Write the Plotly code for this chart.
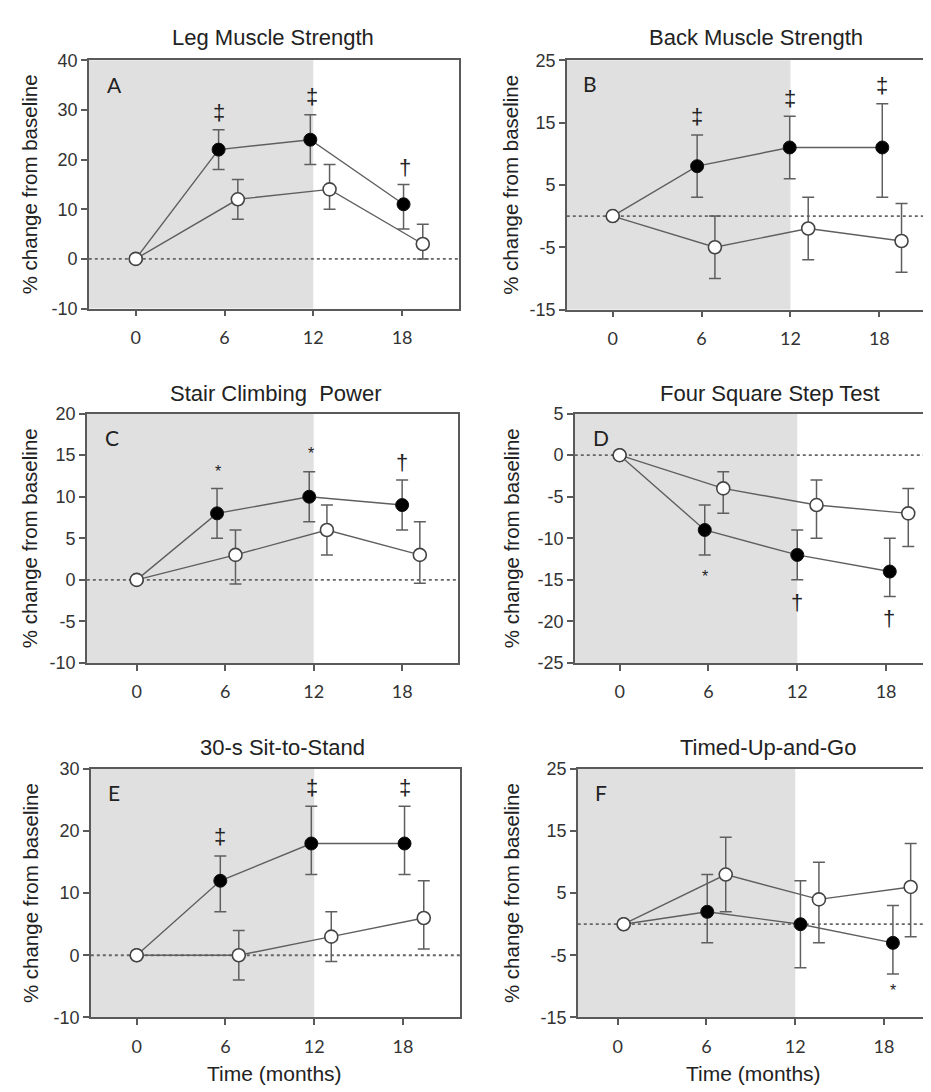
import plotly.graph_objects as go

# ---------------- data ----------------
titles = ["Leg Muscle Strength", "Back Muscle Strength", "Stair Climbing  Power",
          "Four Square Step Test", "30-s Sit-to-Stand", "Timed-Up-and-Go"]
letters = ["A", "B", "C", "D", "E", "F"]
month_ticks = [0, 6, 12, 18]

# exercise group (filled circles): x (months, as plotted), mean, upper, lower
A_ex_x = [0, 5.6, 11.8, 18.1]; A_ex_y = [0, 22, 24, 11]; A_ex_hi = [0, 26, 29, 15]; A_ex_lo = [0, 18, 19, 6]
A_ct_x = [0, 6.9, 13.1, 19.4]; A_ct_y = [0, 12, 14, 3]; A_ct_hi = [0, 16, 19, 7]; A_ct_lo = [0, 8, 10, 0]

B_ex_x = [0, 5.7, 11.95, 18.2]; B_ex_y = [0, 8, 11, 11]; B_ex_hi = [0, 13, 16, 18]; B_ex_lo = [0, 3, 6, 3]
B_ct_x = [0, 6.9, 13.2, 19.5]; B_ct_y = [0, -5, -2, -4]; B_ct_hi = [0, 0, 3, 2]; B_ct_lo = [0, -10, -7, -9]

C_ex_x = [0, 5.45, 11.7, 18.0]; C_ex_y = [0, 8, 10, 9]; C_ex_hi = [0, 11, 13, 12]; C_ex_lo = [0, 5, 7, 6]
C_ct_x = [0, 6.7, 12.9, 19.2]; C_ct_y = [0, 3, 6, 3]; C_ct_hi = [0, 6, 9, 7]; C_ct_lo = [0, -0.5, 3, -0.4]

D_ex_x = [0, 5.75, 12.0, 18.25]; D_ex_y = [0, -9, -12, -14]; D_ex_hi = [0, -6, -9, -10]; D_ex_lo = [0, -12, -15, -17]
D_ct_x = [0, 7.0, 13.3, 19.5]; D_ct_y = [0, -4, -6, -7]; D_ct_hi = [0, -2, -3, -4]; D_ct_lo = [0, -7, -10, -11]

E_ex_x = [0, 5.65, 11.8, 18.1]; E_ex_y = [0, 12, 18, 18]; E_ex_hi = [0, 16, 24, 24]; E_ex_lo = [0, 7, 13, 13]
E_ct_x = [0, 6.9, 13.15, 19.4]; E_ct_y = [0, 0, 3, 6]; E_ct_hi = [0, 4, 7, 12]; E_ct_lo = [0, -4, -1, 1]

F_ex_x = [0.4, 6.05, 12.35, 18.6]; F_ex_y = [0, 2, 0, -3]; F_ex_hi = [0, 8, 7, 3]; F_ex_lo = [0, -3, -7, -8]
F_ct_x = [0.4, 7.3, 13.6, 19.8]; F_ct_y = [0, 8, 4, 6]; F_ct_hi = [0, 14, 10, 13]; F_ct_lo = [0, 2, -3, -2]

# significance marks: x, y, symbol
A_sig_x = [5.6, 11.9, 18.2]; A_sig_y = [29.5, 32.7, 18.5]; A_sig_t = ["‡", "‡", "†"]
B_sig_x = [5.7, 11.95, 18.2]; B_sig_y = [16, 18.9, 21]; B_sig_t = ["‡", "‡", "‡"]
C_sig_x = [5.5, 11.8, 18.0]; C_sig_y = [13.0, 15.2, 14.1]; C_sig_t = ["*", "*", "†"]
D_sig_x = [5.75, 11.98, 18.2]; D_sig_y = [-14.6, -17.7, -19.6]; D_sig_t = ["*", "†", "†"]
E_sig_x = [5.64, 11.82, 18.1]; E_sig_y = [19.2, 27, 27]; E_sig_t = ["‡", "‡", "‡"]
F_sig_x = [18.6]; F_sig_y = [-10.6]; F_sig_t = ["*"]

A_yticks = [-10, 0, 10, 20, 30, 40]
B_yticks = [-15, -5, 5, 15, 25]
C_yticks = [-10, -5, 0, 5, 10, 15, 20]
D_yticks = [-25, -20, -15, -10, -5, 0, 5]
E_yticks = [-10, 0, 10, 20, 30]
F_yticks = [-15, -5, 5, 15, 25]

series = {
    "A": (A_ex_x, A_ex_y, A_ex_hi, A_ex_lo, A_ct_x, A_ct_y, A_ct_hi, A_ct_lo, A_sig_x, A_sig_y, A_sig_t, A_yticks),
    "B": (B_ex_x, B_ex_y, B_ex_hi, B_ex_lo, B_ct_x, B_ct_y, B_ct_hi, B_ct_lo, B_sig_x, B_sig_y, B_sig_t, B_yticks),
    "C": (C_ex_x, C_ex_y, C_ex_hi, C_ex_lo, C_ct_x, C_ct_y, C_ct_hi, C_ct_lo, C_sig_x, C_sig_y, C_sig_t, C_yticks),
    "D": (D_ex_x, D_ex_y, D_ex_hi, D_ex_lo, D_ct_x, D_ct_y, D_ct_hi, D_ct_lo, D_sig_x, D_sig_y, D_sig_t, D_yticks),
    "E": (E_ex_x, E_ex_y, E_ex_hi, E_ex_lo, E_ct_x, E_ct_y, E_ct_hi, E_ct_lo, E_sig_x, E_sig_y, E_sig_t, E_yticks),
    "F": (F_ex_x, F_ex_y, F_ex_hi, F_ex_lo, F_ct_x, F_ct_y, F_ct_hi, F_ct_lo, F_sig_x, F_sig_y, F_sig_t, F_yticks),
}

# ---------------- layout geometry (pixels) ----------------
W, H = 931, 1092
def px(x): return x / W
def py(y): return 1 - y / H

geom = {
    # plot box left, right, top, bottom (px); x range
    "A": dict(box=(81, 452, 43, 296), xr=(-3.17, 21.85), title=(266, 20), letter=(107, 68), ytx=21),
    "B": dict(box=(560, 929, 43, 297), xr=(-3.10, 21.76), title=(750, 20), letter=(583, 67), ytx=504),
    "C": dict(box=(79, 451, 403, 657), xr=(-3.38, 21.79), title=(269, 382), letter=(104, 427), ytx=21),
    "D": dict(box=(568, 931, 403, 657), xr=(-3.03, 21.44), title=(764, 382), letter=(594, 427), ytx=504),
    "E": dict(box=(83, 453, 765, 1018), xr=(-3.10, 21.85), title=(275, 743), letter=(106, 789), ytx=22),
    "F": dict(box=(571, 931, 765, 1018), xr=(-2.70, 21.58), title=(762, 743), letter=(594, 789), ytx=504),
}

TXT = "#222222"
AX = "#5a5a5a"
SHADE = "#e0e0e0"
LINE = "#5f5f5f"

fig = go.Figure()
layout = dict(width=W, height=H, margin=dict(l=0, r=0, t=0, b=0),
              plot_bgcolor="white", paper_bgcolor="white", showlegend=False,
              font=dict(family="Liberation Sans, Arial, sans-serif", color=TXT))
shapes, annotations = [], []

for i, key in enumerate(letters):
    n = "" if i == 0 else str(i + 1)
    xa, ya = "x" + n, "y" + n
    g = geom[key]
    l, r, t, b = g["box"]
    (exx, exy, exhi, exlo, ctx, cty, cthi, ctlo, sx, sy, st, yt) = series[key]

    layout["xaxis" + n] = dict(domain=[px(l), px(r)], range=list(g["xr"]), anchor=ya,
                               tickvals=month_ticks, ticktext=[str(m) for m in month_ticks],
                               ticks="outside", ticklen=6, tickwidth=1.5, tickcolor=AX,
                               showline=True, mirror=True, linecolor=AX, linewidth=1.5,
                               showgrid=False, zeroline=False, ticklabelstandoff=6,
                               tickfont=dict(family="Lato, Carlito, sans-serif", size=18, color="#333"))
    layout["yaxis" + n] = dict(domain=[py(b), py(t)], range=[yt[0], yt[-1]], anchor=xa,
                               tickvals=yt, ticktext=[str(v) for v in yt],
                               ticks="outside", ticklen=6, tickwidth=1.5, tickcolor=AX,
                               showline=True, mirror=True, linecolor=AX, linewidth=1.5,
                               showgrid=False, zeroline=False,
                               tickfont=dict(family="Liberation Sans, Arial", size=18, color="#333"))

    # shaded intervention period and dotted baseline
    shapes.append(dict(type="rect", xref=xa, yref=ya + " domain", x0=g["xr"][0], x1=12, y0=0, y1=1,
                       fillcolor=SHADE, line=dict(width=0), layer="below"))
    shapes.append(dict(type="line", xref=xa + " domain", yref=ya, x0=0, x1=1, y0=0, y1=0,
                       line=dict(color="#666", width=1.8, dash="dot"), layer="below"))

    # exercise (filled) then control (open)
    fig.add_trace(go.Scatter(
        x=exx, y=exy, xaxis=xa, yaxis=ya, mode="lines+markers",
        line=dict(color=LINE, width=1.4),
        marker=dict(size=13, color="black", line=dict(color="#111", width=1)),
        error_y=dict(type="data", symmetric=False,
                     array=[h - v for h, v in zip(exhi, exy)],
                     arrayminus=[v - lo for v, lo in zip(exy, exlo)],
                     color=LINE, thickness=1.5, width=6)))
    fig.add_trace(go.Scatter(
        x=ctx, y=cty, xaxis=xa, yaxis=ya, mode="lines+markers",
        line=dict(color=LINE, width=1.4),
        marker=dict(size=13, color="white", line=dict(color="#444", width=1.6)),
        error_y=dict(type="data", symmetric=False,
                     array=[h - v for h, v in zip(cthi, cty)],
                     arrayminus=[v - lo for v, lo in zip(cty, ctlo)],
                     color=LINE, thickness=1.5, width=6)))

    # significance symbols
    for x, y, s in zip(sx, sy, st):
        annotations.append(dict(x=x, y=y, xref=xa, yref=ya, text=s, showarrow=False,
                                font=dict(size=22 if s != "*" else 16, color="#222",
                                          family="Liberation Sans, Arial"),
                                xanchor="center", yanchor="middle"))

    # titles, letters, y-axis titles
    annotations.append(dict(x=px(g["title"][0]), y=py(g["title"][1]), xref="paper", yref="paper",
                            text=titles[i], showarrow=False, xanchor="center", yanchor="middle",
                            font=dict(size=22, color=TXT)))
    annotations.append(dict(x=px(g["letter"][0]), y=py(g["letter"][1]), xref="paper", yref="paper",
                            text=key, showarrow=False, xanchor="center", yanchor="middle",
                            font=dict(size=21, color=TXT, family="Lato, Carlito, sans-serif")))
    annotations.append(dict(x=px(g["ytx"]), y=py((t + b) / 2), xref="paper", yref="paper",
                            text="% change from baseline", showarrow=False, textangle=-90,
                            xanchor="center", yanchor="middle", font=dict(size=20.5, color=TXT)))

# x-axis titles on bottom row
annotations.append(dict(x=px(267), y=py(1075), xref="paper", yref="paper", text="Time (months)",
                        showarrow=False, xanchor="center", yanchor="middle", font=dict(size=21, color=TXT)))
annotations.append(dict(x=px(747), y=py(1075), xref="paper", yref="paper", text="Time (months)",
                        showarrow=False, xanchor="center", yanchor="middle", font=dict(size=21, color=TXT)))

layout["shapes"] = shapes
layout["annotations"] = annotations
fig.update_layout(**layout)
fig.write_html("out.html")
